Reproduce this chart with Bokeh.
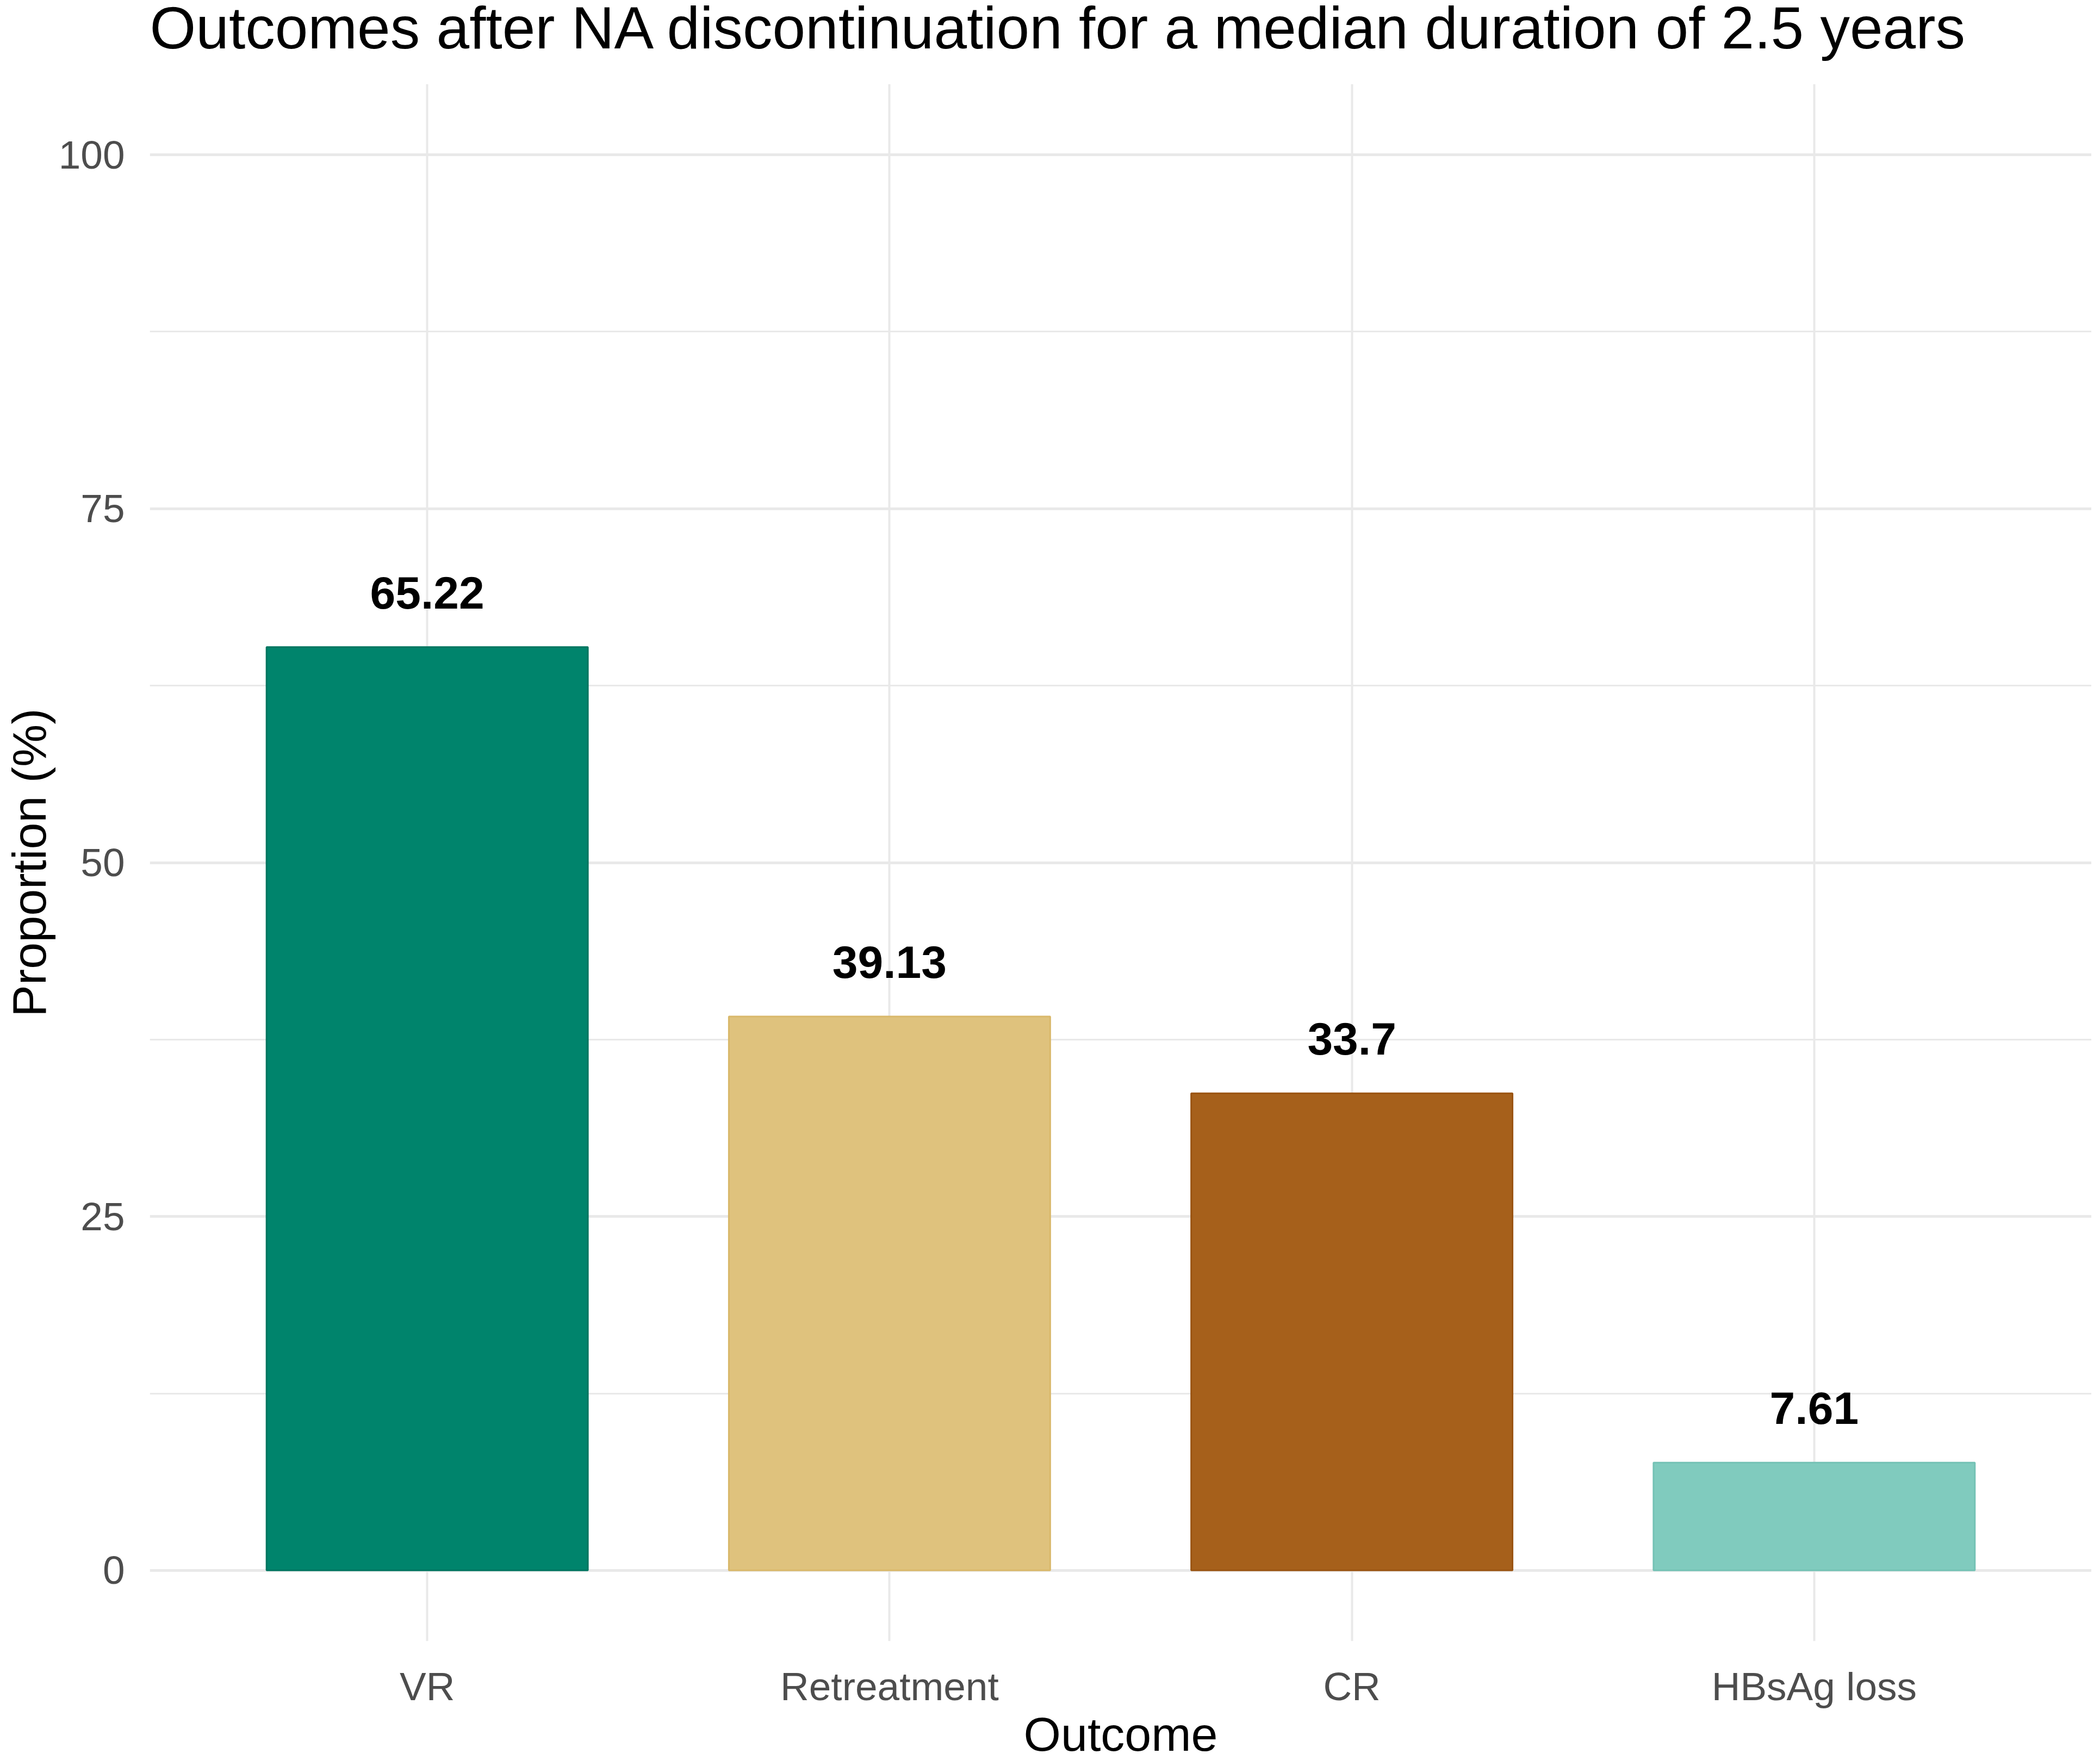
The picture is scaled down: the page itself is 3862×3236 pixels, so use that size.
from bokeh.plotting import figure
from bokeh.layouts import column
from bokeh.models import FactorRange, Range1d, FixedTicker, ColumnDataSource
from bokeh.embed import file_html
from bokeh.resources import INLINE
from bokeh.core.properties import value

# ---- data ----
categories = ["VR", "Retreatment", "CR", "HBsAg loss"]
proportions = [65.22, 39.13, 33.7, 7.61]
bar_labels = ["65.22", "39.13", "33.7", "7.61"]
bar_colors = ["#00846C", "#DFC27D", "#A6601B", "#80CBBE"]
bar_edges = ["#007560", "#D9B86A", "#9A5412", "#74C2B5"]
y_ticks = [0, 25, 50, 75, 100]
y_minor_ticks = [12.5, 37.5, 62.5, 87.5]
title_text = "Outcomes after NA discontinuation for a median duration of 2.5 years"
x_title = "Outcome"
y_title = "Proportion (%)"

FONT = "Liberation Sans"
W = 3846
TITLE_H = 154          # strip holding the (top-cropped) title
FRAME_H = 2863
BL = 272               # left border (y axis)
BB = 130               # bottom border (x tick labels)
MAIN_H = FRAME_H + BB
BOTTOM_H = 3220 - TITLE_H - MAIN_H   # strip holding the (bottom-cropped) x title
FRAME_W = W - BL


def strip(h):
    f = figure(width=W, height=h, x_range=Range1d(0, FRAME_W), y_range=Range1d(0, h),
               output_backend="svg", toolbar_location=None, title=None,
               min_border_left=BL, min_border_right=0,
               min_border_top=0, min_border_bottom=0)
    f.axis.visible = False
    f.grid.visible = False
    f.outline_line_color = None
    f.background_fill_color = "white"
    f.border_fill_color = "white"
    return f


# ---- title strip ----
top = strip(TITLE_H)
top.text(x=[0], y=[TITLE_H - 50], text=[title_text],
         text_font=value(FONT), text_font_size="109px", text_color="black",
         text_align="left", text_baseline="alphabetic")

# ---- main chart ----
src = ColumnDataSource(dict(cat=categories, val=proportions, lab=bar_labels,
                            color=bar_colors, edge=bar_edges))

p = figure(width=W, height=MAIN_H, title=None,
           x_range=FactorRange(factors=categories, range_padding=0.05,
                               range_padding_units="percent"),
           y_range=Range1d(-5, 105),
           output_backend="svg", toolbar_location=None,
           min_border_left=BL, min_border_right=0,
           min_border_top=0, min_border_bottom=BB)

p.background_fill_color = "white"
p.border_fill_color = "white"
p.outline_line_color = None

# grid
p.ygrid.grid_line_color = "#E9E9E9"
p.ygrid.grid_line_width = 5
p.ygrid.minor_grid_line_color = "#E9E9E9"
p.ygrid.minor_grid_line_width = 3
p.xgrid.grid_line_color = "#E9E9E9"
p.xgrid.grid_line_width = 4

# bars
p.vbar(x="cat", top="val", bottom=0, width=0.695, source=src,
       fill_color="color", line_color="edge", line_width=3)

# value labels
p.text(x="cat", y="val", text="lab", source=src,
       text_font=value(FONT), text_font_style="bold", text_font_size="84px",
       text_color="black", text_align="center", text_baseline="alphabetic",
       y_offset=-100)

# axes
p.yaxis.ticker = FixedTicker(ticks=y_ticks, minor_ticks=y_minor_ticks)
for ax in (p.xaxis, p.yaxis):
    ax.axis_line_color = None
    ax.major_tick_line_color = None
    ax.minor_tick_line_color = None
    ax.major_tick_out = 0
    ax.major_tick_in = 0
    ax.minor_tick_out = 0
    ax.minor_tick_in = 0
    ax.major_label_text_font = FONT
    ax.major_label_text_font_size = "73px"
    ax.major_label_text_color = "#4D4D4D"
    ax.axis_label_text_font = FONT
    ax.axis_label_text_font_size = "88px"
    ax.axis_label_text_font_style = "normal"
    ax.axis_label_text_color = "black"

p.yaxis.axis_label = y_title
p.yaxis.major_label_standoff = 46
p.yaxis.axis_label_standoff = 2
p.xaxis.major_label_standoff = 42

# ---- x-axis title strip ----
bottom = strip(BOTTOM_H)
bottom.text(x=[FRAME_W / 2], y=[32], text=[x_title],
            text_font=value(FONT), text_font_size="88px", text_color="black",
            text_align="center", text_baseline="alphabetic")

layout = column(top, p, bottom, spacing=0)
open("out.html", "w").write(file_html(layout, INLINE))
